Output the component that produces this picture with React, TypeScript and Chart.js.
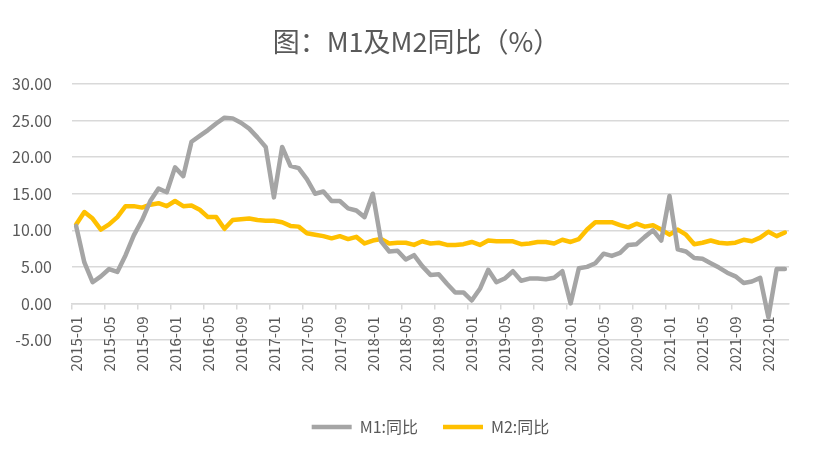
import React, { useEffect, useRef } from "react";
import { Chart, registerables } from "chart.js";

Chart.register(...registerables);

const TITLE = "图：M1及M2同比（%）";
const SERIES_NAMES = ["M1:同比", "M2:同比"];
const START_YEAR = 2015;
const MONTH_COUNT = 87; // 2015-01 .. 2022-03
const LABEL_EVERY = 4;

const categories: string[] = [];
for (let i = 0; i < MONTH_COUNT; i++) {
  const y = START_YEAR + Math.floor(i / 12);
  const m = (i % 12) + 1;
  categories.push(`${y}-${String(m).padStart(2, "0")}`);
}

const m1Values = [
  10.6, 5.6, 2.9, 3.7, 4.7, 4.3, 6.6, 9.3, 11.4, 14.0, 15.7, 15.2,
  18.6, 17.4, 22.1, 22.9, 23.7, 24.6, 25.4, 25.3, 24.7, 23.9, 22.7, 21.4,
  14.5, 21.4, 18.8, 18.5, 17.0, 15.0, 15.3, 14.0, 14.0, 13.0, 12.7, 11.8,
  15.0, 8.5, 7.1, 7.2, 6.0, 6.6, 5.1, 3.9, 4.0, 2.7, 1.5, 1.5,
  0.4, 2.0, 4.6, 2.9, 3.4, 4.4, 3.1, 3.4, 3.4, 3.3, 3.5, 4.4,
  0.0, 4.8, 5.0, 5.5, 6.8, 6.5, 6.9, 8.0, 8.1, 9.1, 10.0, 8.6,
  14.7, 7.4, 7.1, 6.2, 6.1, 5.5, 4.9, 4.2, 3.7, 2.8, 3.0, 3.5,
  -1.9, 4.7, 4.7,
];

const m2Values = [
  10.8, 12.5, 11.6, 10.1, 10.8, 11.8, 13.3, 13.3, 13.1, 13.5, 13.7, 13.3,
  14.0, 13.3, 13.4, 12.8, 11.8, 11.8, 10.2, 11.4, 11.5, 11.6, 11.4, 11.3,
  11.3, 11.1, 10.6, 10.5, 9.6, 9.4, 9.2, 8.9, 9.2, 8.8, 9.1, 8.2,
  8.6, 8.8, 8.2, 8.3, 8.3, 8.0, 8.5, 8.2, 8.3, 8.0, 8.0, 8.1,
  8.4, 8.0, 8.6, 8.5, 8.5, 8.5, 8.1, 8.2, 8.4, 8.4, 8.2, 8.7,
  8.4, 8.8, 10.1, 11.1, 11.1, 11.1, 10.7, 10.4, 10.9, 10.5, 10.7, 10.1,
  9.4, 10.1, 9.4, 8.1, 8.3, 8.6, 8.3, 8.2, 8.3, 8.7, 8.5, 9.0,
  9.8, 9.2, 9.7,
];

const Y_MIN = -5;
const Y_MAX = 30;
const Y_STEP = 5;

const FONT = '"Noto Sans CJK SC", "Noto Sans", sans-serif';
const TEXT_COLOR = "#595959";
const GRID_COLOR = "#d9d9d9";
const M1_COLOR = "#a5a5a5";
const M2_COLOR = "#ffc000";

export default function App() {
  const ref = useRef<HTMLCanvasElement | null>(null);

  useEffect(() => {
    if (!ref.current) return;
    const chart = new Chart(ref.current, {
      type: "line",
      data: {
        labels: categories,
        datasets: [
          {
            label: SERIES_NAMES[0],
            data: m1Values,
            borderColor: M1_COLOR,
            backgroundColor: M1_COLOR,
            borderWidth: 4.5,
            pointRadius: 0,
            tension: 0,
            borderJoinStyle: "round",
            borderCapStyle: "round",
          },
          {
            label: SERIES_NAMES[1],
            data: m2Values,
            borderColor: M2_COLOR,
            backgroundColor: M2_COLOR,
            borderWidth: 4.5,
            pointRadius: 0,
            tension: 0,
            borderJoinStyle: "round",
            borderCapStyle: "round",
          },
        ],
      },
      options: {
        responsive: false,
        animation: false,
        layout: { padding: { left: 8, right: 0, top: 0, bottom: 12 } },
        plugins: {
          tooltip: { enabled: false },
          title: {
            display: true,
            text: TITLE,
            color: TEXT_COLOR,
            font: { family: FONT, size: 27, weight: "normal", lineHeight: 1.2 },
            padding: { top: 25.8, bottom: 25.8 },
          },
          legend: {
            position: "bottom",
            fullSize: false,
            title: {
              display: true,
              text: " ",
              font: { size: 10, lineHeight: 1 },
              padding: { top: 44, bottom: 0 },
            },
            labels: {
              usePointStyle: true,
              pointStyle: "line",
              pointStyleWidth: 40,
              color: TEXT_COLOR,
              font: { family: FONT, size: 16 },
              padding: 25,
            },
          },
        },
        scales: {
          x: {
            type: "category",
            position: { y: 0 } as any,
            offset: true,
            grid: {
              offset: true,
              drawOnChartArea: false,
              drawTicks: true,
              tickLength: 5,
              lineWidth: 1.5,
              color: (ctx: any) =>
                ctx.index % LABEL_EVERY === 0 ? GRID_COLOR : "rgba(0,0,0,0)",
            },
            border: { display: true, color: GRID_COLOR, width: 1.5 },
            ticks: {
              autoSkip: false,
              minRotation: 90,
              maxRotation: 90,
              padding: 8,
              color: TEXT_COLOR,
              font: { family: FONT, size: 15 },
              callback: (_v: any, i: number) =>
                i % LABEL_EVERY === 0 ? categories[i] : "",
            },
          },
          y: {
            min: Y_MIN,
            max: Y_MAX,
            border: { display: false },
            grid: { color: GRID_COLOR, lineWidth: 1.5, drawTicks: false },
            ticks: {
              stepSize: Y_STEP,
              padding: 20,
              color: TEXT_COLOR,
              font: { family: FONT, size: 16 },
              callback: (v: any) => Number(v).toFixed(2),
            },
            afterFit: (s: any) => {
              s.width = 64;
            },
          },
          yRightSpace: {
            type: "linear",
            position: "right",
            display: true,
            grid: { display: false },
            border: { display: false },
            ticks: { display: false },
            afterFit: (s: any) => {
              s.width = 36;
            },
          },
        },
      },
    });
    return () => chart.destroy();
  }, []);

  return (
    <div style={{ position: "absolute", left: 0, top: 0, width: 825, height: 457, background: "#fff" }}>
      <canvas ref={ref} width={825} height={457} />
    </div>
  );
}
